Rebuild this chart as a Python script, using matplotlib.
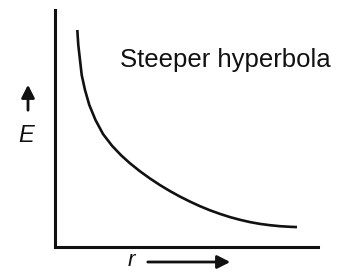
import matplotlib
matplotlib.use("Agg")
import matplotlib.pyplot as plt
from matplotlib.patches import FancyArrowPatch

# Curve points (arbitrary units)
r_vals = [22.3, 23.3, 25, 26.7, 30, 34.3, 40.5, 48, 57, 66, 75, 85, 95, 105,
          115, 125, 135, 145, 155, 165, 175, 185, 195, 205, 215, 225, 235, 242]
E_vals = [217, 202, 187, 172, 157, 142, 127, 113, 101.3, 91.8, 83.7, 75.7, 68.5, 61.9,
          55.9, 50.4, 45.4, 40.8, 36.7, 33.1, 29.9, 27.2, 24.9, 23.1, 21.8, 20.8, 20.2, 19.9]
label_text = "Steeper hyperbola"
x_label = "r"
y_label = "E"

W, H = 346, 272
plt.rcParams['font.family'] = ['Liberation Sans', 'DejaVu Sans']
fig = plt.figure(figsize=(W / 100, H / 100), dpi=100)

def fx(px):
    return px / W

def fy(py):
    return 1 - py / H

ax = fig.add_axes([fx(55), fy(247), (318 - 55) / W, (247 - 10) / H])
ax.set_xlim(0, 263)
ax.set_ylim(0, 237)
ax.plot(r_vals, E_vals, color="#111111", lw=1.9, solid_capstyle="butt",
        solid_joinstyle="round")
for s in ["top", "right"]:
    ax.spines[s].set_visible(False)
for s in ["left", "bottom"]:
    ax.spines[s].set_linewidth(2.2)
    ax.spines[s].set_color("#111111")
ax.set_xticks([])
ax.set_yticks([])
ax.patch.set_alpha(0)

fig.text(fx(120), fy(67), label_text, fontsize=18.5, color="#111111",
         ha="left", va="baseline")

# E with up arrow
fig.text(fx(26), fy(142), y_label, fontsize=17, style="italic", color="#111111",
         ha="center", va="baseline")
fig.add_artist(FancyArrowPatch(
    (fx(28), fy(113)), (fx(28), fy(82)), transform=fig.transFigure,
    arrowstyle="-|>,head_length=0.55,head_width=0.28", mutation_scale=14,
    lw=2.0, color="#111111"))

# r with right arrow
fig.text(fx(131), fy(266), x_label, fontsize=16, style="italic", color="#111111",
         ha="center", va="baseline")
fig.add_artist(FancyArrowPatch(
    (fx(145), fy(262)), (fx(233), fy(262)), transform=fig.transFigure,
    arrowstyle="-|>,head_length=0.55,head_width=0.28", mutation_scale=14,
    lw=2.0, color="#111111"))

fig.savefig("out.png", dpi=100)
